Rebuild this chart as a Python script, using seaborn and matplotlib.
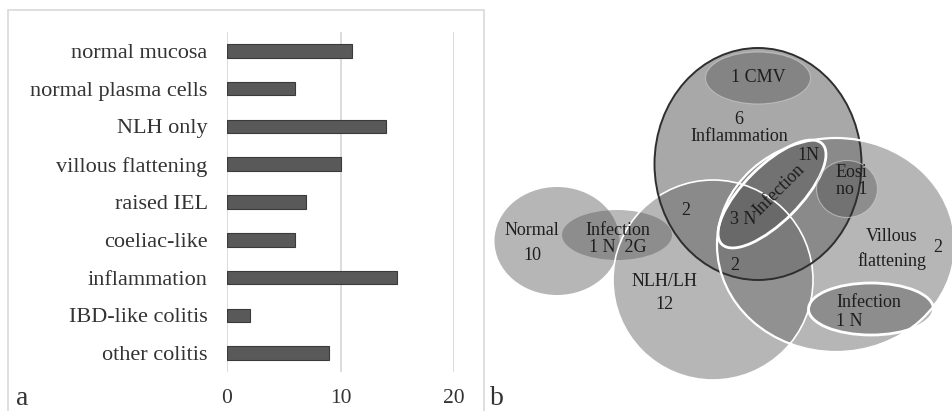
import numpy as np
import pandas as pd
import seaborn as sns
import matplotlib as mpl
mpl.use("Agg")
import matplotlib.pyplot as plt
from matplotlib.patches import Ellipse, Rectangle

# panel a data
categories = ['normal mucosa', 'normal plasma cells', 'NLH only', 'villous flattening',
              'raised IEL', 'coeliac-like', 'inflammation', 'IBD-like colitis', 'other colitis']
counts = [11, 6, 14, 10, 7, 6, 15, 2, 9]
x_ticks = [0, 10, 20]

# panel b: sets of the diagram (centre x, centre y, width, height, angle) in picture pixels
set_names = ['Normal', 'NLH/LH', 'Inflammation', 'Villous flattening']
set_geom = [(557, 241, 125, 108, 0), (713, 280, 200, 200, 0),
            (758, 164, 207, 232, 0), (836, 245, 238, 214, 0)]
sub_names = ['Infection (Normal/NLH)', 'CMV', 'Infection (Inflammation)', 'Eosino', 'Infection (Villous)']
sub_geom = [(617, 235, 110, 50, 0), (758, 78, 105, 52, 0),
            (772, 194, 142, 56, -45), (847, 189, 61, 57, 0), (871, 309, 125, 52, 0)]
venn_labels = ['Normal\n10', 'Infection\n1 N  2G', 'NLH/LH\n12', '1 CMV', '6\nInflammation',
               '2', '2', '3 N', '1N', 'Villous\nflattening', '2']
venn_label_pos = [(532, 243), (618, 239), (664, 293), (758, 77), (739, 128),
                  (686, 210), (735, 265), (743, 219), (808, 155), (892, 249), (938, 247)]
venn_spacing = [1.55, 0.95, 1.5, 1, 1.05, 1, 1, 1, 1, 1.5, 1]

sns.set_style("white")
plt.rcParams['font.family'] = ['Liberation Serif', 'DejaVu Serif']
txt = '#333333'
dark = '#1e1e1e'

W, H = 953, 411
fig = plt.figure(figsize=(W / 100, H / 100), dpi=100)

# ---- panel a ----
ax = fig.add_axes([227 / W, (H - 372) / H, (454 - 227) / W, 340 / H])
df = pd.DataFrame({'category': categories, 'count': counts})
sns.barplot(data=df, x='count', y='category', orient='h', color='#595959',
            saturation=1, width=0.36, edgecolor='#3a3a3a', linewidth=0.8, ax=ax)
ax.set_xlim(0, 20)
ax.set_ylim(8.5, -0.5)
ax.set_xticks(x_ticks)
ax.grid(axis='x', color='#d6d6d6', lw=1.2)
ax.set_axisbelow(True)
sns.despine(ax=ax, left=True, bottom=True)
ax.tick_params(axis='y', length=0, pad=14, labelsize=16, labelcolor=txt)
ax.tick_params(axis='x', length=0, pad=12, labelsize=15.5, labelcolor=txt)
ax.set_xlabel('')
ax.set_ylabel('')
fig.text(16 / W, (H - 405) / H, 'a', fontsize=20, color=txt)
fig.patches.append(Rectangle((8 / W, -0.05), 476 / W, (H - 10) / H + 0.05,
                             transform=fig.transFigure, fill=False,
                             edgecolor='#d9d9d9', lw=1.2))

# ---- panel b ----
bx = fig.add_axes([484 / W, 0, (W - 484) / W, 1])
bx.set_xlim(484, W)
bx.set_ylim(H, 0)
bx.axis('off')

set_alpha = [0.5, 0.5, 0.6, 0.5]
for (cx, cy, w, h, a), al in zip(set_geom, set_alpha):
    bx.add_patch(Ellipse((cx, cy), w, h, angle=a, facecolor='#6e6e6e', alpha=al, lw=0))
for (cx, cy, w, h, a) in sub_geom:
    bx.add_patch(Ellipse((cx, cy), w, h, angle=a, facecolor='#505050', alpha=0.4, lw=0))

# outlines on top
outline = {'NLH/LH': ('white', 1.2), 'Inflammation': ('#2e2e2e', 1.4),
           'Villous flattening': ('white', 1.6)}
for name, (cx, cy, w, h, a) in zip(set_names, set_geom):
    if name in outline:
        c, lw = outline[name]
        bx.add_patch(Ellipse((cx, cy), w, h, angle=a, fill=False, edgecolor=c, lw=lw))
for name, (cx, cy, w, h, a) in zip(sub_names, sub_geom):
    if name in ('Infection (Inflammation)', 'Infection (Villous)'):
        bx.add_patch(Ellipse((cx, cy), w, h, angle=a, fill=False, edgecolor='white', lw=2))
    elif name in ('Eosino', 'CMV'):
        bx.add_patch(Ellipse((cx, cy), w, h, angle=a, fill=False, edgecolor='#c8c8c8',
                             lw=0.8, alpha=0.7))

for s, (px, py), ls in zip(venn_labels, venn_label_pos, venn_spacing):
    bx.text(px, py, s, ha='center', va='center', fontsize=13, color=dark,
            linespacing=ls)
bx.text(779, 190, 'Infection', rotation=45, ha='center', va='center', fontsize=13,
        color=dark)
bx.text(836, 181, 'Eosi\nno 1', ha='left', va='center', fontsize=13, color=dark,
        linespacing=1.05)
bx.text(836, 312, 'Infection\n1 N', ha='left', va='center', fontsize=13, color=dark,
        linespacing=1.1)
bx.text(490, 405, 'b', fontsize=20, color=txt)

fig.savefig('out.png', dpi=100)
